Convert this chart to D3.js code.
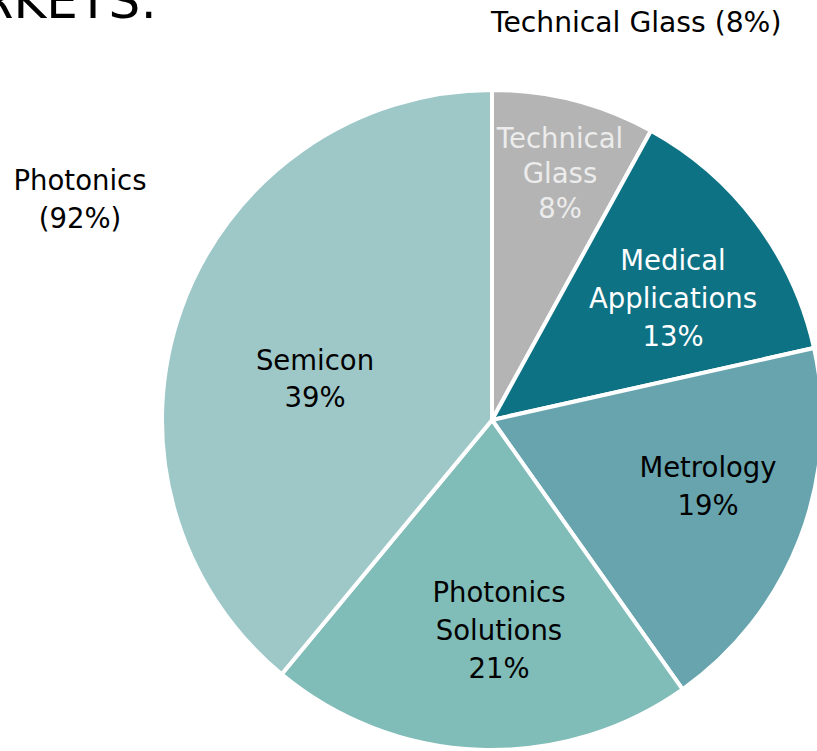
<!DOCTYPE html>
<html>
<head>
<meta charset="utf-8">
<script src="https://cdn.jsdelivr.net/npm/d3@7/dist/d3.min.js"></script>
<style>
  html, body { margin: 0; padding: 0; background: #fff; overflow: hidden; }
  svg { display: block; }
  text { font-family: "DejaVu Sans", sans-serif; }
</style>
</head>
<body>
<svg id="chart" width="817" height="751"></svg>
<script>
const categories = ["Technical Glass", "Medical Applications", "Metrology", "Photonics Solutions", "Semicon"];
const values = [8.0, 13.5, 18.7, 20.8, 39.0];
const labelLines = [["Technical", "Glass", "8%"], ["Medical", "Applications", "13%"], ["Metrology", "19%"], ["Photonics", "Solutions", "21%"], ["Semicon", "39%"]];
const colors = ["#b4b4b4", "#0e7285", "#67a4ad", "#80bcb8", "#9ec8c8"];
const labelColors = ["#ececec", "#ffffff", "#000000", "#000000", "#000000"];
const groupLabelLines = [["Technical Glass (8%)"], ["Photonics", "(92%)"]];
const title = "MARKETS:";

const svg = d3.select("#chart");
const cx = 492, cy = 420, R = 330;
const g = svg.append("g").attr("transform", `translate(${cx},${cy})`);

const pie = d3.pie().sort(null).value(d => d.v);
const data = pie(categories.map((c, i) => ({ c, v: values[i], i })));
const arc = d3.arc().innerRadius(0).outerRadius(R);

g.selectAll("path").data(data).enter().append("path")
  .attr("d", arc)
  .attr("fill", d => colors[d.data.i])
  .attr("stroke", "#fff")
  .attr("stroke-width", 4)
  .attr("stroke-linejoin", "miter");

// label anchor positions (page pixels): center x, first baseline, line step
const labelPos = [
  { x: 560, y: 148, step: 35 },
  { x: 673, y: 270, step: 38 },
  { x: 708, y: 477, step: 38 },
  { x: 499, y: 602, step: 38 },
  { x: 315, y: 370, step: 37 }
];
const FS = 27.5;
data.forEach(d => {
  const i = d.data.i;
  const p = labelPos[i];
  const t = svg.append("text")
    .attr("text-anchor", "middle")
    .attr("font-size", FS)
    .attr("fill", labelColors[i]);
  labelLines[i].forEach((ln, k) => {
    t.append("tspan").attr("x", p.x).attr("y", p.y + k * p.step).text(ln);
  });
});

const groupPos = [{ x: 491, y: 32, anchor: "start", fs: 28.2 }, { x: 80, y: 190, anchor: "middle", fs: FS }];
groupLabelLines.forEach((lines, j) => {
  const gp = groupPos[j];
  const t = svg.append("text").attr("text-anchor", gp.anchor).attr("font-size", gp.fs).attr("fill", "#000");
  lines.forEach((ln, k) => t.append("tspan").attr("x", gp.x).attr("y", gp.y + k * 38).text(ln));
});

svg.append("text").attr("x", 157).attr("y", 18).attr("text-anchor", "end")
  .attr("font-size", 50).attr("fill", "#000").text(title);
</script>
</body>
</html>
